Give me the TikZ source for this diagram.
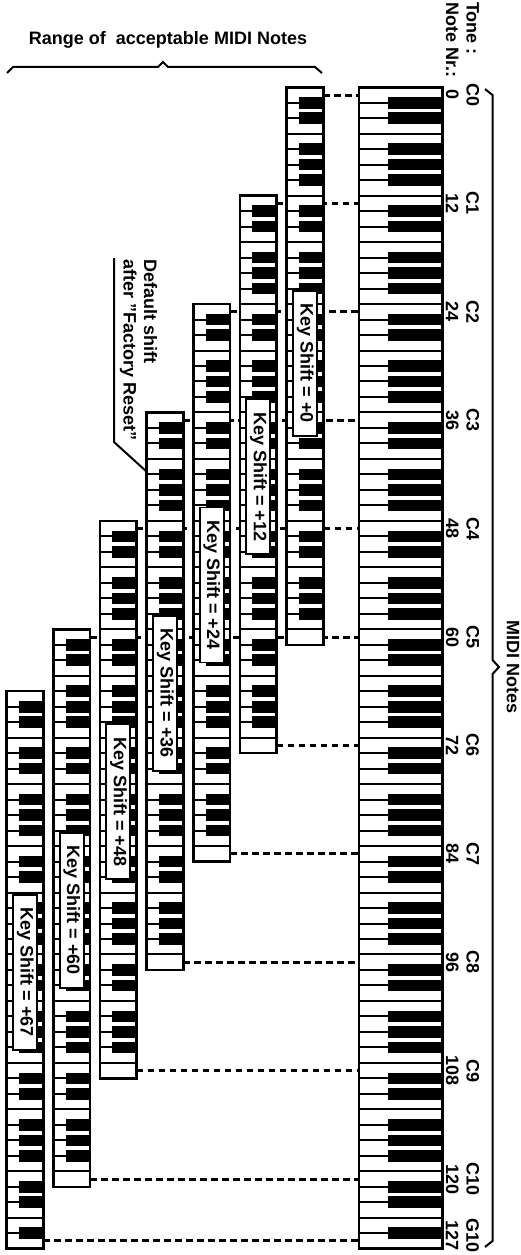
\documentclass[tikz,border=0pt]{standalone}
\usepackage{fontspec}
\setmainfont{Liberation Sans}
\def\T{87.26}
\def\h{15.486}
\def\bw{11.6}
\tikzset{
  sep/.style={line width=2pt},
  outl/.style={line width=2.5pt},
  dashline/.style={line width=3pt, dash pattern=on 6.5pt off 4.5pt},
  kbox/.style={draw, fill=white, line width=1.8pt, rotate=-90, inner xsep=13pt, inner ysep=3.5pt, text height=13pt, text depth=4pt, anchor=west},
  lab/.style={rotate=-90, align=center, inner sep=0pt},
  every node/.style={font=\fontsize{18}{20.5}\selectfont\bfseries},
}
\newcommand{\kbd}[5]{%
  \pgfmathsetmacro\kTop{\T+#4*\h}%
  \pgfmathsetmacro\kBot{\T+(#5+1)*\h}%
  \fill[white] (#1,\kTop) rectangle (#2,\kBot);
  \pgfmathtruncatemacro\jA{#4+1}%
  \foreach \j in {\jA,...,#5}{%
    \pgfmathsetmacro\yy{\T+\j*\h}%
    \pgfmathtruncatemacro\m{mod(\j,7)}%
    \ifnum\m=0 \draw[sep] (#1,\yy) -- (#2,\yy);%
    \else\ifnum\m=3 \draw[sep] (#1,\yy) -- (#2,\yy);%
    \else \draw[sep] (#1,\yy) -- (#3,\yy);%
      \fill (#3,{\yy-\bw/2}) rectangle (#2,{\yy+\bw/2});%
    \fi\fi
  }
  \draw[outl] (#1,\kTop) rectangle (#2,\kBot);
}
\begin{document}
\begin{tikzpicture}[x=1pt,y=-1pt]
\useasboundingbox (0,0) rectangle (521,1255);
% dashed connectors
\coordinate (b0) at (359,{\T+0.5*\h});
\coordinate (b1) at (359,{\T+7.5*\h});
\coordinate (b2) at (359,{\T+14.5*\h});
\coordinate (b3) at (359,{\T+21.5*\h});
\coordinate (b4) at (359,{\T+28.5*\h});
\coordinate (b5) at (359,{\T+35.5*\h});
\coordinate (b6) at (359,{\T+42.5*\h});
\coordinate (b7) at (359,{\T+49.5*\h});
\coordinate (b8) at (359,{\T+56.5*\h});
\coordinate (b9) at (359,{\T+63.5*\h});
\coordinate (b10) at (359,{\T+70.5*\h});
\coordinate (b11) at (359,{\T+74.5*\h});
\coordinate (s0) at (323.4,{\T+0.5*\h});
\coordinate (s1) at (276.7,{\T+7.5*\h});
\coordinate (s2) at (230.0,{\T+14.5*\h});
\coordinate (s3) at (183.4,{\T+21.5*\h});
\coordinate (s4) at (136.7,{\T+28.5*\h});
\coordinate (s5) at (90.0,{\T+35.5*\h});
\coordinate (s6) at (276.7,{\T+42.5*\h});
\coordinate (s7) at (230.0,{\T+49.5*\h});
\coordinate (s8) at (183.4,{\T+56.5*\h});
\coordinate (s9) at (136.7,{\T+63.5*\h});
\coordinate (s10) at (90.0,{\T+70.5*\h});
\coordinate (s11) at (43.4,{\T+74.5*\h});
\foreach \i in {0,...,11}{\draw[dashline] (s\i) -- (b\i);}
% keyboards
\kbd{359}{442.3}{388.3}{0}{74}
\kbd{286.7}{323.4}{299.0}{0}{35}
\kbd{240.0}{276.7}{252.3}{7}{42}
\kbd{193.3}{230.0}{205.6}{14}{49}
\kbd{146.7}{183.4}{159.0}{21}{56}
\kbd{100.0}{136.7}{112.3}{28}{63}
\kbd{53.3}{90.0}{65.6}{35}{70}
\kbd{6.7}{43.4}{19.0}{39}{74}
% key shift boxes
\node[kbox] (ks0) at (305.0,{\T+0*\h+202.5}) {Key Shift = +0};
\node[kbox] (ks12) at (258.3,{\T+7*\h+202.5}) {Key Shift = +12};
\node[kbox] (ks24) at (211.7,{\T+14*\h+202.5}) {Key Shift = +24};
\node[kbox] (ks36) at (165.0,{\T+21*\h+202.5}) {Key Shift = +36};
\node[kbox] (ks48) at (118.3,{\T+28*\h+202.5}) {Key Shift = +48};
\node[kbox] (ks60) at (71.7,{\T+35*\h+202.5}) {Key Shift = +60};
\node[kbox] (ks67) at (25.0,{\T+39*\h+202.5}) {Key Shift = +67};
% right labels
\node[lab] (l0) at (462.5,{\T+0.5*\h}) {C0\\0};
\node[lab] (l1) at (462.5,{\T+7.5*\h}) {C1\\12};
\node[lab] (l2) at (462.5,{\T+14.5*\h}) {C2\\24};
\node[lab] (l3) at (462.5,{\T+21.5*\h}) {C3\\36};
\node[lab] (l4) at (462.5,{\T+28.5*\h}) {C4\\48};
\node[lab] (l5) at (462.5,{\T+35.5*\h}) {C5\\60};
\node[lab] (l6) at (462.5,{\T+42.5*\h}) {C6\\72};
\node[lab] (l7) at (462.5,{\T+49.5*\h}) {C7\\84};
\node[lab] (l8) at (462.5,{\T+56.5*\h}) {C8\\96};
\node[lab] (l9) at (462.5,{\T+63.5*\h}) {C9\\108};
\node[lab] (l10) at (462.5,{\T+70.5*\h}) {C10\\120};
\node[lab] (l11) at (462.5,1235) {G10\\127};
\node[lab, anchor=west, align=left] (hdr) at (462.5,2) {Tone :\\Note Nr.:};
% MIDI notes brace
\draw[line width=2pt] (485,89) -- (492.5,95) -- (492.5,660) -- (499,667) -- (492.5,674) -- (492.5,1241) -- (485,1247);
\node[lab] (midi) at (513,667) {MIDI Notes};
% range brace
\draw[line width=2pt] (7,73) -- (13,67) -- (158,67) -- (163,62) -- (168,67) -- (315,67) -- (322,73);
\node[inner sep=0pt] (range) at (168,40) {Range of~ acceptable MIDI Notes};
% default shift callout
\node[lab, anchor=west, align=left] (dflt) at (138.5,259) {Default shift\\after "Factory Reset"};
\coordinate (cA) at (114,258);
\coordinate (cB) at (114,442);
\coordinate (cC) at (147,472);
\draw[line width=2pt] (cA) -- (cB) -- (cC);
\end{tikzpicture}
\end{document}
